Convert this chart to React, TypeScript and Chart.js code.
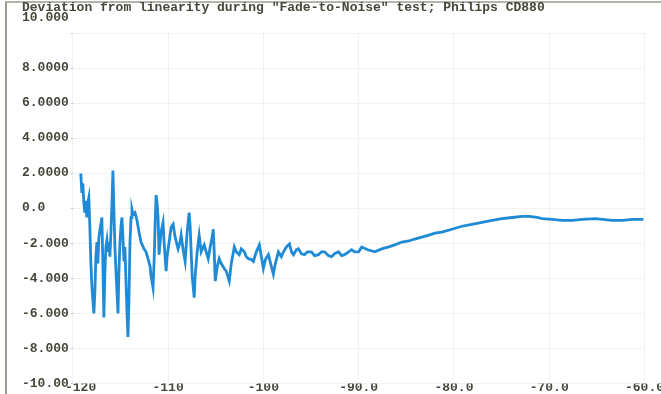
import React, { useEffect, useRef } from "react";
import { Chart, registerables } from "chart.js";

Chart.register(...registerables);

const titleLines = ['Deviation from linearity during "Fade-to-Noise" test; Philips CD880', "10.000"];

const xTickValues = [-120, -110, -100, -90, -80, -70, -60];
const xTickLabels = ["-120", "-110", "-100", "-90.0", "-80.0", "-70.0", "-60.0"];

// the top value's label ("10.000") is printed just under the title, as in the original plot
const yTickValues = [10, 8, 6, 4, 2, 0, -2, -4, -6, -8, -10];
const yTickLabels = ["", "8.0000", "6.0000", "4.0000", "2.0000", "0.0", "-2.000", "-4.000", "-6.000", "-8.000", "-10.00"];

// Input level (dB)
const levelDb = [
  -119.16, -119.05, -118.95, -118.84, -118.74, -118.63, -118.53, -118.42, -118.32, -118.21,
  -118.11, -118.0, -117.89, -117.79, -117.68, -117.58, -117.47, -117.37, -117.26, -117.16,
  -117.05, -116.95, -116.84, -116.74, -116.63, -116.53, -116.42, -116.32, -116.21, -116.11,
  -116.0, -115.89, -115.79, -115.68, -115.58, -115.47, -115.37, -115.26, -115.16, -115.05,
  -114.95, -114.84, -114.74, -114.63, -114.53, -114.42, -114.32, -114.21, -114.11, -114.0,
  -113.89, -113.79, -113.68, -113.47, -113.26, -113.05, -112.84, -112.53, -112.32, -112.11,
  -111.89, -111.79, -111.58, -111.47, -111.37, -111.26, -111.16, -111.05, -110.95, -110.84,
  -110.74, -110.53, -110.42, -110.21, -110.11, -109.89, -109.68, -109.47, -109.26, -108.95,
  -108.74, -108.63, -108.42, -108.21, -108.0, -107.79, -107.68, -107.58, -107.47, -107.26,
  -107.16, -106.95, -106.74, -106.53, -106.21, -106.0, -105.79, -105.58, -105.37, -105.26,
  -105.16, -105.05, -104.84, -104.63, -104.42, -104.11, -103.89, -103.58, -103.37, -103.05,
  -102.84, -102.53, -102.32, -102.0, -101.79, -101.58, -101.26, -101.05, -100.74, -100.42,
  -100.21, -100.0, -99.79, -99.47, -99.16, -98.95, -98.74, -98.42, -98.11, -97.89,
  -97.58, -97.26, -97.05, -96.84, -96.53, -96.32, -96.0, -95.68, -95.37, -94.95,
  -94.63, -94.21, -93.89, -93.58, -93.16, -92.84, -92.53, -92.11, -91.79, -91.47,
  -91.05, -90.74, -90.42, -90.0, -89.68, -89.05, -88.32, -87.58, -86.84, -86.21,
  -85.47, -84.74, -84.11, -83.37, -82.63, -82.0, -81.26, -80.21, -79.16, -78.11,
  -77.05, -76.0, -74.95, -73.89, -72.84, -72.11, -71.26, -70.74, -69.68, -68.63,
  -67.58, -66.53, -65.16, -64.42, -63.37, -62.32, -61.26, -60.11,
];

// Deviation from linearity (dB)
const deviation = [
  1.98, 0.87, 1.42, 0.31, -0.25, 0.42, -0.53, 0.31, 0.59, -1.09,
  -3.04, -4.44, -5.28, -6.01, -4.72, -2.77, -1.93, -3.16, -1.65, -1.26,
  -0.92, -0.53, -3.32, -6.23, -3.6, -2.21, -1.82, -2.49, -1.93, -2.77,
  -1.37, 0.31, 2.15, -0.25, -2.21, -3.6, -4.72, -6.01, -3.6, -1.93,
  -1.09, -0.53, -1.65, -3.04, -2.21, -4.16, -5.84, -7.35, -5.28, -1.93,
  -0.53, -0.08, -0.36, -0.25, -0.7, -1.37, -1.93, -2.32, -2.49, -2.88,
  -3.32, -3.88, -4.55, -3.04, -1.09, 0.75, 0.31, -0.53, -2.65, -1.93,
  -1.37, -0.81, -1.93, -3.6, -2.77, -1.93, -1.09, -0.92, -1.65, -2.32,
  -1.93, -1.54, -2.37, -3.04, -1.37, -0.25, -1.09, -2.49, -3.88, -5.11,
  -3.88, -2.49, -1.54, -2.49, -2.09, -2.49, -2.88, -2.21, -1.65, -1.2,
  -2.49, -4.16, -3.32, -2.88, -3.16, -3.44, -3.6, -4.16, -3.16, -2.21,
  -2.49, -2.65, -2.32, -2.49, -2.77, -2.88, -2.93, -3.04, -2.49, -2.09,
  -2.77, -3.44, -2.93, -2.65, -3.32, -3.77, -3.16, -2.49, -2.77, -2.49,
  -2.21, -2.04, -2.49, -2.65, -2.37, -2.32, -2.6, -2.65, -2.49, -2.49,
  -2.71, -2.65, -2.49, -2.49, -2.71, -2.77, -2.6, -2.49, -2.71, -2.65,
  -2.49, -2.37, -2.49, -2.49, -2.21, -2.37, -2.49, -2.32, -2.21, -2.09,
  -1.93, -1.87, -1.76, -1.65, -1.54, -1.42, -1.37, -1.2, -1.03, -0.92,
  -0.81, -0.7, -0.59, -0.53, -0.47, -0.47, -0.53, -0.59, -0.64, -0.7,
  -0.7, -0.64, -0.59, -0.64, -0.7, -0.7, -0.64, -0.64,
];

const textColor = "#46463a";
const lineColor = "#1f8bd6";
const gridColor = "rgba(90, 90, 80, 0.08)";
const monoFont = "'Liberation Mono', 'DejaVu Sans Mono', monospace";

export default function App() {
  const canvasRef = useRef<HTMLCanvasElement | null>(null);

  useEffect(() => {
    const canvas = canvasRef.current;
    if (!canvas) return;
    const points = levelDb.map((x, i) => ({ x, y: deviation[i] }));
    const chart = new Chart(canvas, {
      type: "line",
      data: {
        datasets: [
          {
            data: points,
            borderColor: lineColor,
            borderWidth: 2.8,
            pointRadius: 0,
            tension: 0,
            fill: false,
          },
        ],
      },
      options: {
        animation: false,
        responsive: true,
        maintainAspectRatio: false,
        layout: { padding: { left: 22, right: 0, top: 0, bottom: 1 } },
        plugins: {
          legend: { display: false },
          tooltip: { enabled: false },
          title: {
            display: true,
            text: titleLines,
            align: "start",
            color: textColor,
            font: { family: monoFont, size: 13, weight: "bold", lineHeight: "9.5px" },
            padding: { top: 3, bottom: 11 },
          },
        },
        scales: {
          x: {
            type: "linear",
            min: -120,
            max: -60,
            border: { display: false },
            grid: { color: gridColor, drawTicks: false },
            ticks: {
              stepSize: 10,
              padding: -3,
              maxRotation: 0,
              color: textColor,
              font: { family: monoFont, size: 13, weight: "bold" },
              callback: (v: any) => {
                const i = xTickValues.indexOf(Number(v));
                if (i < 0) return "";
                return i === 0 ? "  " + xTickLabels[i] : xTickLabels[i];
              },
            },
          },
          y: {
            type: "linear",
            min: -10,
            max: 10,
            border: { display: false },
            grid: { color: gridColor, tickLength: 2, tickColor: "rgba(80,80,70,0.3)" },
            ticks: {
              stepSize: 2,
              padding: 1,
              crossAlign: "far",
              color: textColor,
              font: { family: monoFont, size: 13, weight: "bold" },
              callback: (v: any) => {
                const i = yTickValues.indexOf(Number(v));
                return i < 0 ? "" : yTickLabels[i];
              },
            },
          },
        },
      },
    });
    return () => chart.destroy();
  }, []);

  return (
    <div style={{ position: "fixed", left: 0, top: 0, width: 661, height: 394, background: "#fff" }}>
      <div
        style={{
          position: "absolute",
          left: 5,
          top: 1,
          width: 656,
          height: 393,
          borderLeft: "2px solid #9a9a92",
          borderTop: "2px solid #b4b4ac",
          boxSizing: "border-box",
        }}
      />
      <canvas ref={canvasRef} style={{ position: "absolute", left: 0, top: 0, width: 661, height: 394 }} />
    </div>
  );
}
